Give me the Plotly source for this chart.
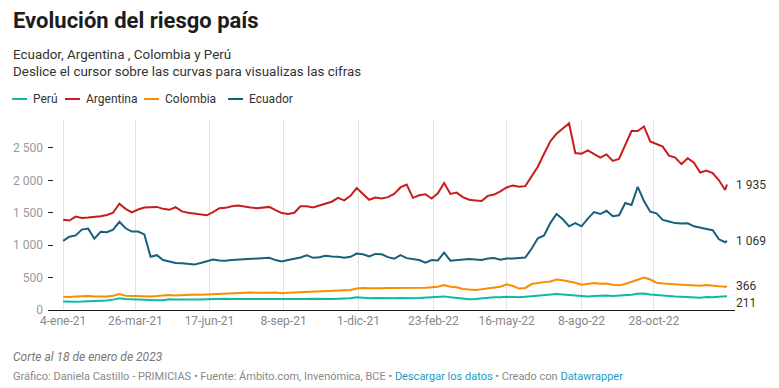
import plotly.graph_objects as go
import pandas as pd

# ---- data ----
fechas = list(pd.date_range("2021-01-04", periods=107, freq="7D")) + [pd.Timestamp("2023-01-18")]

argentina = [1390, 1380, 1440, 1420, 1425, 1430, 1445, 1465, 1500, 1640,
             1560, 1505, 1550, 1580, 1585, 1590, 1560, 1545, 1585, 1520,
             1500, 1490, 1475, 1460, 1510, 1570, 1575, 1600, 1610, 1590,
             1580, 1570, 1585, 1590, 1540, 1495, 1480, 1500, 1600, 1600,
             1580, 1610, 1640, 1670, 1730, 1690, 1760, 1880, 1790, 1700,
             1735, 1720, 1740, 1790, 1890, 1935, 1730, 1770, 1785, 1720,
             1800, 1960, 1790, 1810, 1740, 1700, 1690, 1680, 1760, 1780,
             1830, 1890, 1920, 1900, 1910, 2070, 2210, 2410, 2600, 2720,
             2800, 2880, 2420, 2410, 2460, 2400, 2350, 2400, 2300, 2330,
             2560, 2760, 2760, 2830, 2600, 2560, 2520, 2380, 2350, 2250,
             2340, 2270, 2120, 2150, 2110, 2000, 1850, 1935]

ecuador = [1065, 1130, 1150, 1240, 1255, 1100, 1205, 1200, 1240, 1360,
           1260, 1210, 1210, 1165, 820, 845, 770, 750, 725, 720,
           705, 700, 725, 750, 780, 765, 760, 770, 775, 785,
           790, 785, 795, 805, 770, 748, 770, 790, 810, 845,
           805, 815, 835, 825, 822, 805, 820, 870, 860, 825,
           865, 860, 815, 790, 845, 800, 780, 770, 730, 770,
           765, 885, 760, 770, 780, 785, 780, 770, 795, 800,
           775, 795, 795, 800, 810, 945, 1105, 1150, 1340, 1480,
           1400, 1290, 1340, 1290, 1410, 1510, 1480, 1530, 1445, 1460,
           1650, 1620, 1900, 1680, 1515, 1490, 1390, 1365, 1340, 1335,
           1337, 1290, 1265, 1250, 1230, 1090, 1045, 1069]

colombia = [205, 200, 210, 215, 215, 210, 205, 210, 220, 245,
            220, 215, 210, 215, 210, 215, 225, 230, 225, 230,
            245, 240, 235, 240, 250, 255, 255, 260, 265, 265,
            270, 265, 260, 265, 270, 260, 265, 270, 275, 280,
            285, 290, 290, 295, 300, 305, 310, 330, 340, 335,
            330, 335, 340, 340, 345, 335, 340, 345, 345, 350,
            360, 385, 360, 350, 325, 315, 310, 320, 335, 345,
            360, 395, 370, 330, 340, 400, 420, 430, 440, 470,
            460, 445, 420, 390, 400, 415, 405, 410, 390, 380,
            400, 430, 470, 500, 470, 420, 410, 400, 395, 390,
            385, 380, 375, 385, 370, 365, 360, 366]

peru = [130, 125, 128, 130, 132, 135, 140, 148, 160, 180,
        170, 165, 160, 158, 155, 150, 152, 165, 160, 158,
        165, 165, 160, 165, 170, 180, 175, 170, 170, 165,
        160, 165, 170, 165, 160, 160, 165, 165, 160, 170,
        175, 170, 168, 170, 172, 175, 180, 195, 185, 180,
        185, 180, 178, 180, 185, 180, 182, 185, 190, 190,
        195, 210, 195, 185, 175, 165, 170, 180, 190, 195,
        195, 205, 200, 195, 205, 215, 225, 230, 240, 245,
        240, 230, 220, 215, 210, 215, 220, 225, 215, 220,
        225, 235, 250, 255, 240, 230, 225, 215, 210, 205,
        200, 195, 190, 200, 195, 205, 210, 211]

x_tick_fechas = ["2021-01-04", "2021-03-26", "2021-06-17", "2021-09-08", "2021-12-01",
                 "2022-02-23", "2022-05-16", "2022-08-08", "2022-10-28"]
x_tick_textos = ["4-ene-21", "26-mar-21", "17-jun-21", "8-sep-21", "1-dic-21",
                 "23-feb-22", "16-may-22", "8-ago-22", "28-oct-22"]
y_ticks = [0, 500, 1000, 1500, 2000, 2500]
y_textos = ["0", "500", "1 000", "1 500", "2 000", "2 500"]

series = [
    ("Perú", peru, "#09bb9f", "211", -7),
    ("Argentina", argentina, "#c71e1d", "1 935", 0),
    ("Colombia", colombia, "#fa8c00", "366", 0),
    ("Ecuador", ecuador, "#15607a", "1 069", 0),
]

FONT = "Roboto, Arial, sans-serif"
W, H = 779, 388
L, R, T, B = 48, 735, 120, 310


def px(x):
    return (x - L) / (R - L)


def py(y):
    return (B - y) / (B - T)


fig = go.Figure()
for name, vals, color, _, _ in series:
    fig.add_trace(go.Scatter(x=fechas, y=vals, mode="lines", name=name,
                             line=dict(color=color, width=2),
                             hovertemplate="%{y:,.0f}<extra>" + name + "</extra>"))

ann = []
# end labels
for name, vals, color, lab, ys in series:
    ann.append(dict(x=fechas[-1], y=vals[-1], xref="x", yref="y", text=lab,
                    showarrow=False, xanchor="left", yanchor="middle", xshift=7, yshift=ys,
                    font=dict(family=FONT, size=12, color="#333333")))

# title / subtitle
ann.append(dict(x=px(11), y=py(21), xref="paper", yref="paper", showarrow=False,
                text="<b>Evolución del riesgo país</b>", xanchor="left", yanchor="middle",
                font=dict(family=FONT, size=22, color="#1d1d1d")))
ann.append(dict(x=px(11), y=py(54), xref="paper", yref="paper", showarrow=False,
                text="Ecuador, Argentina , Colombia y Perú", xanchor="left", yanchor="middle",
                font=dict(family=FONT, size=13.4, color="#333333")))
ann.append(dict(x=px(11), y=py(71), xref="paper", yref="paper", showarrow=False,
                text="Deslice el cursor sobre las curvas para visualizas las cifras", xanchor="left",
                yanchor="middle", font=dict(family=FONT, size=13.4, color="#333333")))

# legend (manual, datawrapper style)
shapes = []
leg_x = [12, 65, 144, 228]
for (name, vals, color, _, _), lx in zip(series, leg_x):
    shapes.append(dict(type="line", xref="paper", yref="paper", x0=px(lx), x1=px(lx + 15),
                       y0=py(99), y1=py(99), line=dict(color=color, width=2)))
    ann.append(dict(x=px(lx + 19), y=py(99), xref="paper", yref="paper", showarrow=False,
                    text=name, xanchor="left", yanchor="middle",
                    font=dict(family=FONT, size=12, color="#333333")))

# footer
ann.append(dict(x=px(11), y=py(357), xref="paper", yref="paper", showarrow=False,
                text="<i>Corte al 18 de enero de 2023</i>", xanchor="left", yanchor="middle",
                font=dict(family=FONT, size=12, color="#777777")))
link = "#1d9bc6"
ann.append(dict(x=px(11), y=py(376), xref="paper", yref="paper", showarrow=False,
                text=("Gráfico: Daniela Castillo - PRIMICIAS • Fuente: Ámbito.com, Invenómica, BCE • "
                      f"<span style='color:{link}'>Descargar los datos</span> • Creado con "
                      f"<span style='color:{link}'>Datawrapper</span>"),
                xanchor="left", yanchor="middle",
                font=dict(family=FONT, size=11, color="#888888")))

fig.update_layout(
    width=W, height=H,
    margin=dict(l=L, r=W - R, t=T, b=H - B, pad=0),
    paper_bgcolor="white", plot_bgcolor="white",
    showlegend=False,
    font=dict(family=FONT, size=12, color="#333333"),
    annotations=ann, shapes=shapes,
    hovermode="x unified",
    xaxis=dict(type="date", range=["2020-12-18", "2023-01-27"],
               tickvals=x_tick_fechas, ticktext=x_tick_textos,
               showgrid=True, gridcolor="#e3e3e3", gridwidth=1,
               showline=True, linecolor="#1a1a1a", linewidth=1,
               ticks="", zeroline=False,
               tickfont=dict(family=FONT, size=12, color="#888888")),
    yaxis=dict(range=[0, 2930], tickvals=y_ticks, ticktext=y_textos,
               showgrid=False, zeroline=False, showline=False,
               ticks="inside", ticklen=5, tickcolor="#1a1a1a", tickwidth=1,
               ticklabelstandoff=4,
               tickfont=dict(family=FONT, size=12, color="#999999")),
)

fig.write_html("out.html", config={"displayModeBar": False},
               post_script="document.body.style.margin='0';document.body.style.overflow='hidden';")
